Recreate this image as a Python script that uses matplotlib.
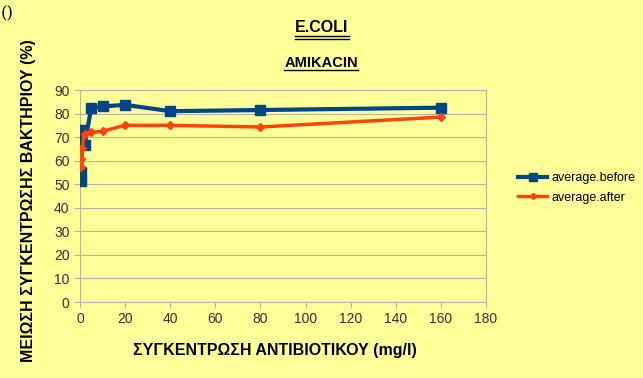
import matplotlib
matplotlib.use("Agg")
import matplotlib.pyplot as plt
from matplotlib.lines import Line2D

x_vals = [0.25, 0.5, 1, 2, 5, 10, 20, 40, 80, 160]
before = [51.5, 55, 73, 66.5, 82.5, 83, 83.7, 81, 81.5, 82.5]
after = [57.5, 60.5, 65.5, 71.5, 72, 72.5, 75, 75, 74.3, 78.5]
x_ticks = list(range(0, 181, 20))
y_ticks = list(range(0, 91, 10))

bg = '#ffff99'
plt.rcParams['font.family'] = ['Liberation Sans', 'DejaVu Sans']

fig = plt.figure(figsize=(6.43, 3.78), dpi=100, facecolor=bg)
ax = fig.add_axes([80/643, 1-302/378, 406/643, 212/378])
ax.set_facecolor(bg)

ax.plot(x_vals, before, color='#004586', lw=3, marker='s', ms=7.5, label='average.before', zorder=3)
ax.plot(x_vals, after, color='#ff420e', lw=2.5, marker='D', ms=4.5, label='average.after', zorder=3)

ax.set_xlim(0, 180)
ax.set_ylim(0, 90)
ax.set_xticks(x_ticks)
ax.set_yticks(y_ticks)
ax.yaxis.grid(True, color='#b3b3b3', lw=0.8)
ax.set_axisbelow(True)
for s in ax.spines.values():
    s.set_color('#b3b3b3')
    s.set_linewidth(0.8)
ax.tick_params(colors='#b3b3b3', labelcolor='#333333', labelsize=10, length=4, width=0.8)

ax.set_xlabel('ΣΥΓΚΕΝΤΡΩΣΗ ΑΝΤΙΒΙΟΤΙΚΟΥ (mg/l)', fontsize=11.5, fontweight='bold')
ax.set_ylabel('ΜΕΙΩΣΗ ΣΥΓΚΕΝΤΡΩΣΗΣ ΒΑΚΤΗΡΙΟΥ (%)', fontsize=11.5, fontweight='bold')
ax.xaxis.set_label_coords((275-80)/406, -(350-302)/212)
ax.yaxis.set_label_coords(-(80-29)/406, (302-201)/212)
ax.xaxis.label.set_va('center')
ax.yaxis.label.set_va('center')

t1 = fig.text(322/643, 1-28/378, 'E.COLI', ha='center', va='center', fontsize=11.5, fontweight='bold')
t2 = fig.text(321/643, 1-63/378, 'AMIKACIN', ha='center', va='center', fontsize=10.5, fontweight='bold')
fig.text(1/643, 1-14/378, '()', ha='left', va='center', fontsize=12, family='DejaVu Serif')

fig.canvas.draw()
r = fig.canvas.get_renderer()
inv = fig.transFigure.inverted()
for t, offs in ((t1, [1, 4]), (t2, [1])):
    bb = t.get_window_extent(r)
    (x0, y0), (x1, y1) = inv.transform([[bb.x0, bb.y0], [bb.x1, bb.y1]])
    for o in offs:
        yy = y0 - (o - 1) / 378
        fig.add_artist(Line2D([x0, x1], [yy, yy], transform=fig.transFigure, color='black', lw=1))

fig.legend(loc='center left', bbox_to_anchor=(507/643, 1-188/378), frameon=False,
           fontsize=9, handlelength=2.3, labelspacing=0.6, handletextpad=0.4, markerscale=0.7)

fig.savefig('out.png', dpi=100, facecolor=bg)
